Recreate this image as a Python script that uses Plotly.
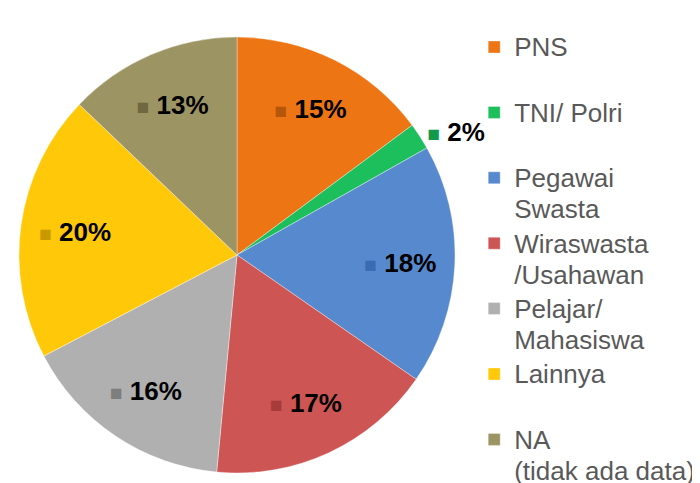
import plotly.graph_objects as go

categories = ["PNS", "TNI/ Polri", "Pegawai<br>Swasta", "Wiraswasta<br>/Usahawan",
              "Pelajar/<br>Mahasiswa", "Lainnya", "NA<br>(tidak ada data)"]
values = [15, 2, 18, 17, 16, 20, 13]
colors = ["#EE7514", "#1DBE5C", "#5689CE", "#CD5553", "#B0B0B0", "#FFC808", "#9C9462"]
square_colors = ["#B5560B", "#13994A", "#3B6BB0", "#A63B3A", "#7E7E7E", "#C99A00", "#6E673F"]
outside_slices = ["TNI/ Polri"]

legend_labels = [
    f"<span style='font-size:26px'>{c}</span>" + ("" if "<br>" in c else "<br> ")
    for c in categories
]
labels_text = [
    f"<span style='color:{col};font-size:21px'>■</span> {v}%"
    for v, col in zip(values, square_colors)
]
outer_text = [t if c in outside_slices else "" for t, c in zip(labels_text, categories)]
inner_text = ["" if c in outside_slices else t for t, c in zip(labels_text, categories)]

# page body has an 8px margin: shift the pie by that amount
domain = dict(x=[11 / 700, 447 / 700], y=[18 / 483, 454 / 483])
label_font = dict(family="Liberation Sans, Arial", size=26, color="black", weight="bold")

fig = go.Figure()
fig.add_trace(go.Pie(
    labels=legend_labels,
    values=values,
    text=outer_text,
    texttemplate="%{text}",
    textposition="outside",
    sort=False,
    direction="clockwise",
    rotation=0,
    marker=dict(colors=colors, line=dict(color="rgba(255,255,255,0.45)", width=0.8)),
    textfont=label_font,
    domain=domain,
    hoverinfo="skip",
))
# transparent ring used only to place the percentage labels at ~3/4 radius
fig.add_trace(go.Pie(
    labels=legend_labels,
    values=values,
    hole=0.5,
    text=inner_text,
    texttemplate="%{text}",
    textposition="inside",
    sort=False,
    direction="clockwise",
    rotation=0,
    showlegend=False,
    marker=dict(colors=["rgba(0,0,0,0)"] * len(values), line=dict(width=0)),
    textfont=label_font,
    insidetextorientation="horizontal",
    domain=domain,
    hoverinfo="skip",
))

fig.update_layout(
    width=700, height=483,
    margin=dict(l=0, r=0, t=0, b=0, autoexpand=False),
    paper_bgcolor="white",
    showlegend=True,
    legend=dict(
        x=0.666, y=0.965, xanchor="left", yanchor="top",
        bgcolor="rgba(0,0,0,0)",
        font=dict(family="Liberation Sans, Arial", size=24, color="#595959"),
        valign="top",
        itemwidth=30,
        tracegroupgap=0,
    ),
    uniformtext=dict(minsize=26, mode="show"),
)

fig.write_html("out.html")
